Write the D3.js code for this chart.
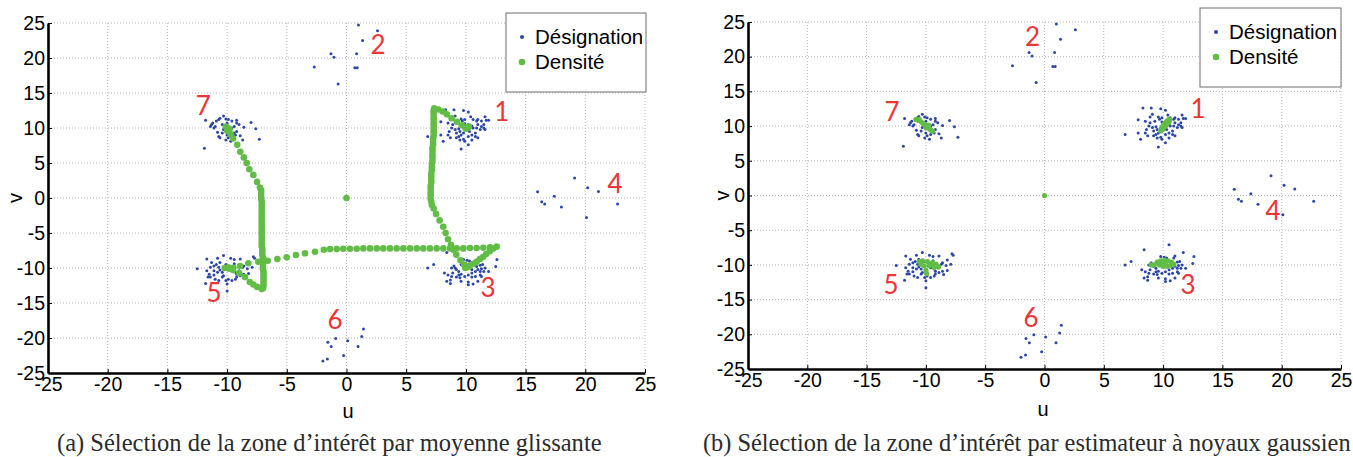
<!DOCTYPE html>
<html>
<head>
<meta charset="utf-8">
<script src="https://cdn.jsdelivr.net/npm/d3@7"></script>
<style>
  body { margin: 0; background: #fff; }
  svg { display: block; }
</style>
</head>
<body>
<svg id="fig" width="1353" height="457"></svg>
<script>
// tick values shared by both axes
var ticks = [-25, -20, -15, -10, -5, 0, 5, 10, 15, 20, 25];

// Désignation points (same set in both panels)
var desig1 = [[8.3,12.6],[9.0,12.6],[9.8,12.5],[10.2,12.3],[7.9,10.9],[8.5,10.7],[8.9,11.3],[9.1,11.7],[9.3,10.7],[9.6,11.3],
  [9.7,11.0],[9.9,11.2],[10.4,11.6],[10.6,11.2],[10.9,11.0],[11.0,11.2],[11.3,11.0],[11.6,11.6],[11.7,11.1],[11.9,11.1],
  [11.5,10.5],[11.3,10.2],[11.0,10.5],[11.6,9.8],[11.2,9.8],[10.9,10.0],[10.6,10.0],[10.5,10.3],[10.2,10.5],[9.9,10.6],
  [8.8,10.0],[9.1,9.8],[8.6,9.5],[8.5,9.0],[8.7,8.6],[7.9,9.0],[8.1,8.1],[6.8,8.8],[9.2,9.3],[9.4,8.8],
  [9.6,9.0],[9.8,8.4],[9.5,8.3],[9.9,8.1],[10.2,8.8],[10.5,9.0],[10.8,9.3],[11.0,8.6],[10.2,7.6],[9.6,7.0],
  [10.1,9.8],[10.3,9.5],[9.4,9.9],[8.9,10.5],[11.5,10.0],[10.8,8.8],[9.5,9.5],[9.8,9.3],[10.5,8.3],[9.2,8.6]];
var desig2 = [[-2.7,18.7],[-1.3,20.6],[-1.05,20.1],[-0.7,16.3],[0.7,18.6],[0.9,18.6],[0.85,20.6],[1.0,24.7],[1.35,22.5],[2.6,23.9]];
var desig3 = [[8.4,-7.8],[10.5,-7.1],[11.0,-8.7],[11.7,-8.2],[12.6,-8.8],[12.5,-9.8],[6.8,-10.0],[7.3,-9.5],[8.2,-10.7],[8.5,-11.0],
  [8.8,-10.0],[9.0,-9.7],[9.2,-10.2],[9.4,-10.5],[9.8,-8.8],[10.1,-8.9],[10.3,-9.0],[10.6,-9.5],[10.9,-9.8],[11.2,-9.6],
  [11.4,-9.5],[11.3,-10.1],[11.0,-10.2],[10.8,-10.5],[10.5,-10.7],[10.2,-11.0],[9.9,-11.2],[9.6,-10.9],[9.5,-11.4],[9.2,-11.3],
  [8.8,-11.2],[8.7,-11.7],[8.4,-11.9],[8.7,-12.2],[9.6,-11.9],[10.2,-12.0],[10.5,-11.3],[10.8,-11.2],[11.2,-11.0],[11.3,-11.2],
  [11.0,-11.9],[10.6,-12.3],[10.2,-12.4],[11.6,-10.0],[11.9,-10.5],[11.5,-10.5],[10.9,-9.0],[9.6,-9.5],[9.1,-10.0],[9.9,-10.0],
  [8.9,-10.7],[9.4,-11.0],[10.5,-10.2],[11.2,-10.5]];
var desig4 = [[16.0,0.9],[16.35,-0.55],[16.6,-0.84],[17.4,0.26],[18.0,-1.27],[19.1,2.85],[20.1,-2.77],[20.2,1.47],[21.1,0.94],[22.7,-0.84]];
var desig5 = [[-11.7,-8.7],[-10.8,-8.6],[-10.3,-8.2],[-9.7,-8.6],[-9.4,-8.8],[-8.9,-8.7],[-7.8,-8.4],[-7.7,-8.6],[-8.2,-9.3],[-8.6,-9.7],
  [-8.7,-9.9],[-8.3,-10.1],[-7.9,-9.9],[-12.5,-10.1],[-11.7,-10.4],[-11.4,-9.9],[-11.1,-9.7],[-10.9,-9.5],[-10.7,-9.9],[-10.6,-10.3],
  [-10.8,-10.6],[-11.1,-11.0],[-11.4,-11.3],[-11.6,-11.3],[-11.8,-12.2],[-11.0,-11.6],[-10.7,-11.8],[-10.4,-11.3],[-10.3,-11.1],[-10.1,-11.8],
  [-10.0,-12.3],[-9.9,-11.6],[-9.6,-11.8],[-9.3,-11.6],[-9.2,-11.3],[-8.9,-11.1],[-8.6,-10.9],[-8.5,-11.4],[-8.2,-10.8],[-9.0,-10.4],
  [-9.3,-10.6],[-9.6,-10.4],[-10.0,-13.3],[-10.1,-9.5],[-9.7,-9.9],[-9.4,-9.4],[-11.1,-10.4],[-10.4,-10.6],[-11.5,-10.9],[-10.6,-9.2],
  [-11.3,-9.2],[-9.2,-10.9]];
var desig6 = [[-1.98,-23.3],[-1.6,-23.0],[-1.56,-20.6],[-1.28,-21.2],[-0.9,-20.06],[-0.24,-22.5],[0.1,-20.4],[0.97,-21.2],[1.28,-19.8],[1.42,-18.7]];
var desig7 = [[-11.8,11.1],[-11.3,10.5],[-11.2,10.7],[-10.9,11.0],[-10.7,11.2],[-10.6,11.4],[-10.3,11.7],[-10.1,11.3],[-9.9,11.2],[-9.6,11.0],
  [-9.2,11.1],[-9.2,10.7],[-9.0,10.5],[-8.6,10.1],[-8.0,10.8],[-7.6,9.9],[-7.3,8.4],[-11.9,7.1],[-10.8,9.4],[-10.7,8.8],
  [-10.4,9.3],[-10.3,9.8],[-10.0,9.0],[-9.9,8.6],[-9.6,8.8],[-9.4,9.3],[-9.3,9.0],[-9.2,9.5],[-8.7,8.3],[-8.9,8.9],
  [-9.7,8.1],[-10.1,8.3],[-10.6,8.6],[-11.0,10.2],[-11.1,10.0],[-11.4,10.2],[-9.6,10.0],[-9.7,9.5],[-10.1,10.2],[-9.4,10.2],
  [-10.4,10.5],[-10.0,10.7]];

// Densité, panel (a): moyenne glissante trajectories
var densiteA = [[0,0],
  [10.1,10.0],[10.2,10.1],[10.0,9.9],[10.25,10.2],[9.95,10.1],
  [9.65,10.4],[9.25,10.9],[8.8,11.4],[8.4,11.95],[8.05,12.35],[7.7,12.65],[7.35,12.8],
  [7.3,12.5],[7.3,12.1],[7.3,11.6],[7.3,11.2],[7.3,10.7],[7.3,10.3],[7.3,9.8],[7.3,9.4],[7.3,8.9],[7.25,8.5],
  [7.25,8.0],[7.25,7.6],[7.2,7.1],[7.2,6.7],[7.2,6.2],[7.2,5.8],[7.2,5.3],[7.15,4.9],[7.15,4.4],[7.15,4.0],
  [7.1,3.5],[7.1,3.1],[7.1,2.6],[7.1,2.2],[7.05,1.7],[7.05,1.3],[7.05,0.8],[7.05,0.4],[7.05,-0.1],[7.1,-0.5],
  [7.15,-1.0],[7.3,-1.5],[7.5,-2.3],[7.8,-3.2],[8.1,-4.1],[8.3,-5.0],[8.5,-5.9],[8.75,-6.7],[8.95,-7.4],[9.2,-8.1],
  [9.55,-8.9],[9.85,-9.5],
  [10.05,-9.9],[10.2,-9.8],[9.95,-10.0],[10.3,-9.7],
  [-2.64,-7.67],[-1.9,-7.4],[-1.38,-7.3],[-0.82,-7.3],[-0.27,-7.25],[0.29,-7.25],[0.85,-7.25],[1.41,-7.2],[1.97,-7.2],
  [2.53,-7.2],[3.08,-7.2],[3.64,-7.2],[4.2,-7.2],[4.76,-7.2],[5.32,-7.2],[5.88,-7.2],[6.43,-7.2],[6.99,-7.2],
  [7.55,-7.2],[8.11,-7.2],[8.67,-7.2],[9.23,-7.2],[9.78,-7.2],[10.34,-7.15],[10.9,-7.15],[11.46,-7.1],[12.02,-7.05],[12.58,-6.95],
  [12.3,-7.2],[12.0,-7.6],[11.7,-8.0],[11.45,-8.4],[11.2,-8.7],[10.9,-9.1],[10.6,-9.4],[10.3,-9.7],
  [-3.48,-7.9],[-4.23,-8.14],[-5.01,-8.47],[-5.79,-8.71],[-6.6,-8.96],[-7.39,-9.1],[-8.22,-9.33],[-8.92,-9.71],[-9.48,-9.96],
  [-9.95,10.0],[-10.1,10.2],[-9.8,9.8],[-10.0,9.6],
  [-9.7,9.1],[-9.5,8.5],[-9.15,7.6],[-8.9,6.6],[-8.6,5.8],[-8.36,5.0],[-8.14,4.1],[-7.8,3.3],[-7.5,2.3],[-7.25,1.5],
  [-7.15,1.1],[-7.15,0.7],[-7.15,0.3],[-7.15,-0.1],[-7.1,-0.5],[-7.1,-0.9],[-7.1,-1.3],[-7.1,-1.7],[-7.1,-2.1],[-7.1,-2.5],
  [-7.1,-2.9],[-7.1,-3.3],[-7.1,-3.7],[-7.1,-4.1],[-7.1,-4.5],[-7.1,-4.9],[-7.1,-5.3],[-7.1,-5.7],[-7.1,-6.1],[-7.1,-6.5],
  [-7.1,-6.9],[-7.05,-7.3],[-7.05,-7.7],[-7.05,-8.1],[-7.0,-8.5],[-7.0,-8.9],[-7.0,-9.3],[-7.0,-9.7],[-7.0,-10.1],[-6.95,-10.5],
  [-6.95,-10.9],[-6.95,-11.3],[-6.95,-11.7],[-6.95,-12.1],[-6.95,-12.5],[-7.0,-12.9],[-7.1,-13.0],
  [-7.5,-12.7],[-7.8,-12.35],[-8.1,-12.0],[-8.5,-11.3],[-8.98,-10.76],[-9.5,-10.3],[-9.8,-10.1],[-10.0,-10.0],[-10.2,-10.0],[-9.9,-9.9]];

// Densité, panel (b): estimateur à noyaux gaussien
var densiteB = [[0,0],
  [9.8,9.3],[9.85,9.6],[9.95,9.9],[10.05,10.2],[10.15,10.45],[10.3,10.7],[10.45,10.9],[10.55,11.0],[10.0,9.6],[10.2,10.0],
  [10.35,10.3],[10.5,10.6],[9.9,9.5],
  [9.5,-9.6],[9.8,-9.4],[10.1,-9.3],[10.4,-9.4],[10.7,-9.6],[10.9,-9.9],[10.6,-10.1],[10.3,-10.2],[10.0,-10.2],[9.7,-10.0],
  [10.2,-9.7],[9.9,-9.8],[9.0,-10.0],[9.25,-10.0],
  [-10.56,-9.52],[-10.28,-9.42],[-9.86,-9.52],[-9.44,-9.66],[-9.16,-9.9],[-8.93,-10.29],[-9.3,-10.38],[-9.72,-10.14],
  [-10.14,-10.14],[-10.0,-10.77],[-9.94,-11.25],[-10.42,-9.9],[-9.58,-9.9],
  [-10.84,10.96],[-10.62,10.82],[-10.39,10.63],[-10.22,10.34],[-10.06,10.14],[-9.86,9.9],[-9.72,9.66],[-9.58,9.42],
  [-9.44,9.28],[-10.56,10.96],[-10.0,9.76],[-9.78,10.14]];

// red cluster numbers: text, u, v (baseline centre)
var labelsA = [['1',13.0,11.0],['2',2.64,20.6],['3',11.85,-14.1],['4',22.5,0.7],['5',-11.1,-14.8],['6',-0.96,-18.7],['7',-12.0,11.9]];
var labelsB = [['1',12.94,11.1],['2',-1.0,21.6],['3',12.1,-14.2],['4',19.27,-3.5],['5',-12.94,-14.2],['6',-1.14,-19.0],['7',-12.86,10.8]];

var legendNames = ['Désignation', 'Densité'];
var captions = ['(a) Sélection de la zone d\u2019intérêt par moyenne glissante',
                '(b) Sélection de la zone d\u2019intérêt par estimateur à noyaux gaussien'];

var designation = [].concat(desig1, desig2, desig3, desig4, desig5, desig6, desig7);

var blue = '#2c47a6';
var green = '#62bd46';
var red = '#ee3535';

var svg = d3.select('#fig');

var panels = [
  {left: 48, right: 645, top: 23, bottom: 373, green: densiteA, gr: 3.3, labels: labelsA,
   legend: {x: 506, y: 13, w: 140, h: 79}, vx: 15, ux: 348, uy: 418, capX: 57, capW: 545},
  {left: 748, right: 1341, top: 22, bottom: 369, green: densiteB, gr: 2.6, labels: labelsB,
   legend: {x: 1200, y: 8, w: 141, h: 79}, vx: 722, ux: 1043, uy: 416, capX: 703, capW: 648}
];

panels.forEach(function(p, i) {
  var g = svg.append('g');
  var x = d3.scaleLinear().domain([-25, 25]).range([p.left, p.right]);
  var y = d3.scaleLinear().domain([-25, 25]).range([p.bottom, p.top]);

  // dotted grid
  g.append('g').selectAll('line.gx')
    .data(ticks.slice(1)).enter().append('line')
    .attr('x1', d => x(d)).attr('x2', d => x(d))
    .attr('y1', p.top).attr('y2', p.bottom)
    .attr('stroke', '#b4b4b4').attr('stroke-width', 1).attr('stroke-dasharray', '1,2');
  g.append('g').selectAll('line.gy')
    .data(ticks.slice(1)).enter().append('line')
    .attr('y1', d => y(d)).attr('y2', d => y(d))
    .attr('x1', p.left).attr('x2', p.right)
    .attr('stroke', '#b4b4b4').attr('stroke-width', 1).attr('stroke-dasharray', '1,2');

  // legend box (under the data, like the reference)
  var L = p.legend;
  var lg = g.append('g');
  lg.append('rect')
    .attr('x', L.x).attr('y', L.y).attr('width', L.w).attr('height', L.h)
    .attr('fill', '#fff').attr('stroke', '#6e6e6e').attr('stroke-width', 1);
  lg.append('circle').attr('cx', L.x + 16).attr('cy', L.y + 24).attr('r', 2).attr('fill', blue);
  lg.append('circle').attr('cx', L.x + 16).attr('cy', L.y + 49).attr('r', 3.3).attr('fill', green);
  lg.selectAll('text').data(legendNames).enter().append('text')
    .attr('x', L.x + 29).attr('y', (d, k) => L.y + 31 + k * 25)
    .attr('font-family', 'Liberation Sans, Arial, sans-serif').attr('font-size', 20.5)
    .attr('fill', '#000').text(d => d);

  // points
  g.append('g').selectAll('circle')
    .data(designation).enter().append('circle')
    .attr('cx', d => x(d[0])).attr('cy', d => y(d[1])).attr('r', 1.5)
    .attr('fill', blue);
  g.append('g').selectAll('circle')
    .data(p.green).enter().append('circle')
    .attr('cx', d => x(d[0])).attr('cy', d => y(d[1])).attr('r', p.gr)
    .attr('fill', green);

  // cluster numbers
  g.append('g').selectAll('text')
    .data(p.labels).enter().append('text')
    .attr('x', d => x(d[1])).attr('y', d => y(d[2]))
    .attr('text-anchor', 'middle')
    .attr('font-family', 'Lato, Open Sans, sans-serif').attr('font-size', 26)
    .attr('fill', red).text(d => d[0]);

  // axes
  var xAxis = d3.axisBottom(x).tickValues(ticks).tickFormat(d3.format('d'))
    .tickSizeInner(-4).tickSizeOuter(0).tickPadding(4);
  var yAxis = d3.axisLeft(y).tickValues(ticks).tickFormat(d3.format('d'))
    .tickSizeInner(-4).tickSizeOuter(0).tickPadding(3);
  var xg = g.append('g').attr('transform', `translate(0,${p.bottom})`).call(xAxis);
  var yg = g.append('g').attr('transform', `translate(${p.left},0)`).call(yAxis);
  [xg, yg].forEach(function(a) {
    a.select('.domain').attr('stroke', '#000').attr('stroke-width', 2.6);
    a.selectAll('.tick line').attr('stroke', '#000').attr('stroke-width', 1);
    a.selectAll('.tick text').attr('fill', '#000')
      .attr('font-family', 'Liberation Sans, Arial, sans-serif').attr('font-size', 19.5);
  });
  xg.selectAll('.tick text').text(d => d3.format('d')(d).replace('−', '-'));
  yg.selectAll('.tick text').text(d => d3.format('d')(d).replace('−', '-'));

  // axis titles
  g.append('text')
    .attr('transform', `translate(${p.vx},${y(0)}) rotate(-90)`)
    .attr('text-anchor', 'middle').attr('dy', '0.35em')
    .attr('font-family', 'Liberation Sans, Arial, sans-serif').attr('font-size', 20)
    .text('v');
  g.append('text')
    .attr('x', p.ux).attr('y', p.uy).attr('text-anchor', 'middle')
    .attr('font-family', 'Liberation Sans, Arial, sans-serif').attr('font-size', 20)
    .text('u');

  // caption, sized to span the same width as in the picture
  var cap = svg.append('text')
    .attr('x', p.capX).attr('y', 451)
    .attr('font-family', 'Liberation Serif, DejaVu Serif, serif').attr('font-size', 17)
    .attr('fill', '#2b2b2b').text(captions[i]);
  var w = cap.node().getComputedTextLength();
  cap.attr('font-size', 17 * p.capW / w);
});
</script>
</body>
</html>
